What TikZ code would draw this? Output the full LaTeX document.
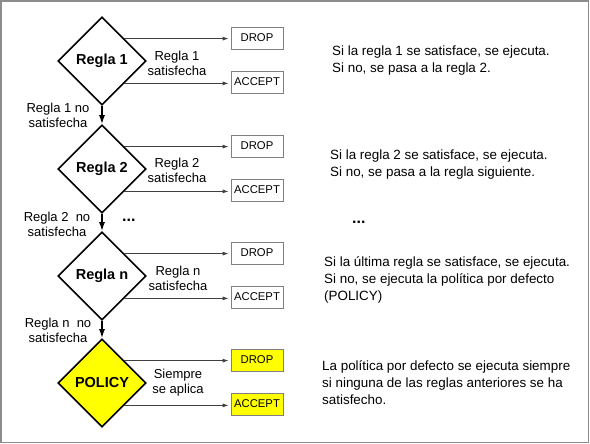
\documentclass[tikz,border=0pt]{standalone}
\usepackage{fontspec}
\setmainfont{Liberation Sans}
\usepackage{tikz}
\usetikzlibrary{shapes,arrows,arrows.meta}
\definecolor{amarillo}{rgb}{1, 1, 0}
\definecolor{gris}{rgb}{0.5, 0.5, 0.5}
\tikzstyle{rombo}=[diamond,draw,line width=1.6pt,inner sep=0pt,minimum width=88pt,minimum height=88pt,font=\fontsize{14.5}{16}\selectfont\bfseries]
\tikzstyle{caja}=[rectangle,draw=gris,line width=0.8pt,minimum width=52pt,minimum height=22pt,inner sep=0pt,font=\fontsize{11.3}{13}\selectfont]
\tikzstyle{flecha}=[draw=black!75,line width=0.8pt,-{Latex[length=6pt,width=4pt]},shorten >=2pt]
\tikzstyle{baja}=[line width=1.6pt,-{Latex[length=9pt,width=6pt]}]
\tikzstyle{etiqueta}=[align=center,inner sep=0pt,font=\fontsize{13}{15}\selectfont]
\tikzstyle{texto}=[anchor=west,align=left,inner sep=0pt,font=\fontsize{13.4}{17}\selectfont]
\tikzstyle{puntos}=[inner sep=0pt,font=\fontsize{16}{16}\selectfont\bfseries]
\newcommand{\salidas}[3]{
  \node[caja,fill=#3] (#1d) at (257,{#2-23}) {DROP};
  \node[caja,fill=#3] (#1a) at (257,{#2+21}) {ACCEPT};
  \draw[flecha] (#1.north east) -- (#1.north east -| #1d.west);
  \draw[flecha] (#1.south east) -- (#1.south east -| #1a.west);
}

\begin{document}
\begin{tikzpicture}[x=1pt,y=-1pt]
\useasboundingbox (0,0) rectangle (590,444);
\fill[white] (0,0) rectangle (590,444);
\draw[gris!90,line width=1.6pt] (1,1) rectangle (588.5,442.5);
% reglas
\node[rombo] (r1) at (102,61) {Regla 1};
\node[rombo] (r2) at (102,169) {Regla 2};
\node[rombo] (rn) at (102,276) {Regla n};
\node[rombo,fill=amarillo] (rp) at (102,383) {POLICY};
\salidas{r1}{61}{white};
\salidas{r2}{169}{white};
\salidas{rn}{276}{white};
\salidas{rp}{383}{amarillo};
\draw[baja] (r1.south) -- (r2.north);
\draw[baja] (r2.south) -- (rn.north);
\draw[baja] (rn.south) -- (rp.north);
% etiquetas
\node[etiqueta] (s1) at (177,63) {Regla 1\\satisfecha};
\node[etiqueta] (s2) at (177,170) {Regla 2\\satisfecha};
\node[etiqueta] (sn) at (178,278) {Regla n\\satisfecha};
\node[etiqueta] (sp) at (178,383) {Siempre\\se aplica};
\node[etiqueta] (n1) at (58,115) {Regla 1 no\\satisfecha};
\node[etiqueta] (n2) at (57,224) {Regla 2 \ no\\satisfecha};
\node[etiqueta] (nn) at (58,330) {Regla n \ no\\satisfecha};
\node[puntos,anchor=base west] (p1) at (122,222) {...};
% textos
\node[texto] (t1) at (332,61) {Si la regla 1 se satisface, se ejecuta.\\Si no, se pasa a la regla 2.};
\node[texto] (t2) at (330,165) {Si la regla 2 se satisface, se ejecuta.\\Si no, se pasa a la regla siguiente.};
\node[puntos,anchor=base west] (p2) at (352,223) {...};
\node[texto] (tn) at (324,280) {Si la última regla se satisface, se ejecuta.\\Si no, se ejecuta la política por defecto\\(POLICY)};
\node[texto] (tp) at (322,383) {La política por defecto se ejecuta siempre\\si ninguna de las reglas anteriores se ha\\satisfecho.};
\end{tikzpicture}
\end{document}
